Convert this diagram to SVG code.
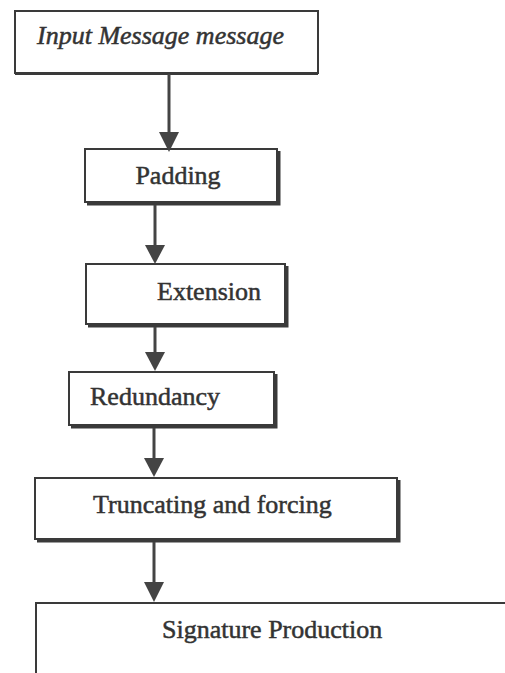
<svg xmlns="http://www.w3.org/2000/svg" width="505" height="673" viewBox="0 0 505 673">
<style>
.box{fill:#fff;stroke:#3a3a3a;stroke-width:2}
.sh{fill:none;stroke:#3a3a3a;stroke-width:3}
.t{font-family:"Liberation Serif","Times New Roman",serif;font-size:26px;fill:#333;stroke:#333;stroke-width:0.5}
.ti{font-style:italic}
.c{stroke:#444;stroke-width:3;fill:none}
.ah{fill:#444}
</style>
<rect width="505" height="673" fill="#fff"/>
<g id="input">
<rect class="box" x="15" y="11" width="303" height="62"/>
<path class="sh" d="M15 73.5 H318"/>
<text class="t ti" x="37" y="44">Input Message message</text>
</g>
<g id="padding">
<rect class="box" x="85" y="149" width="192" height="53"/>
<path class="sh" d="M279 151 V204 H87"/>
<text class="t" x="178" y="184" text-anchor="middle">Padding</text>
</g>
<g id="extension">
<rect class="box" x="86" y="264" width="199" height="60"/>
<path class="sh" d="M287 266 V326 H88"/>
<text class="t" x="157" y="300">Extension</text>
</g>
<g id="redundancy">
<rect class="box" x="69" y="372" width="205" height="53"/>
<path class="sh" d="M276 374 V427 H71"/>
<text class="t" x="90" y="405">Redundancy</text>
</g>
<g id="truncating">
<rect class="box" x="35" y="478" width="362" height="61"/>
<path class="sh" d="M399 480 V541 H37"/>
<text class="t" x="93" y="513">Truncating and forcing</text>
</g>
<g id="signature">
<path class="box" d="M36 673 V603 H510"/>
<text class="t" x="162" y="638">Signature Production</text>
</g>
<g id="connectors">
<path class="c" d="M169 74 V134"/>
<polygon class="ah" points="159,132 179,132 169,152"/>
<path class="c" d="M155 205 V247"/>
<polygon class="ah" points="145,245 165,245 155,264"/>
<path class="c" d="M155 327 V354"/>
<polygon class="ah" points="145,352 165,352 155,371"/>
<path class="c" d="M154 428 V460"/>
<polygon class="ah" points="144,458 164,458 154,477"/>
<path class="c" d="M154 542 V584"/>
<polygon class="ah" points="144,582 164,582 154,602"/>
</g>
</svg>
